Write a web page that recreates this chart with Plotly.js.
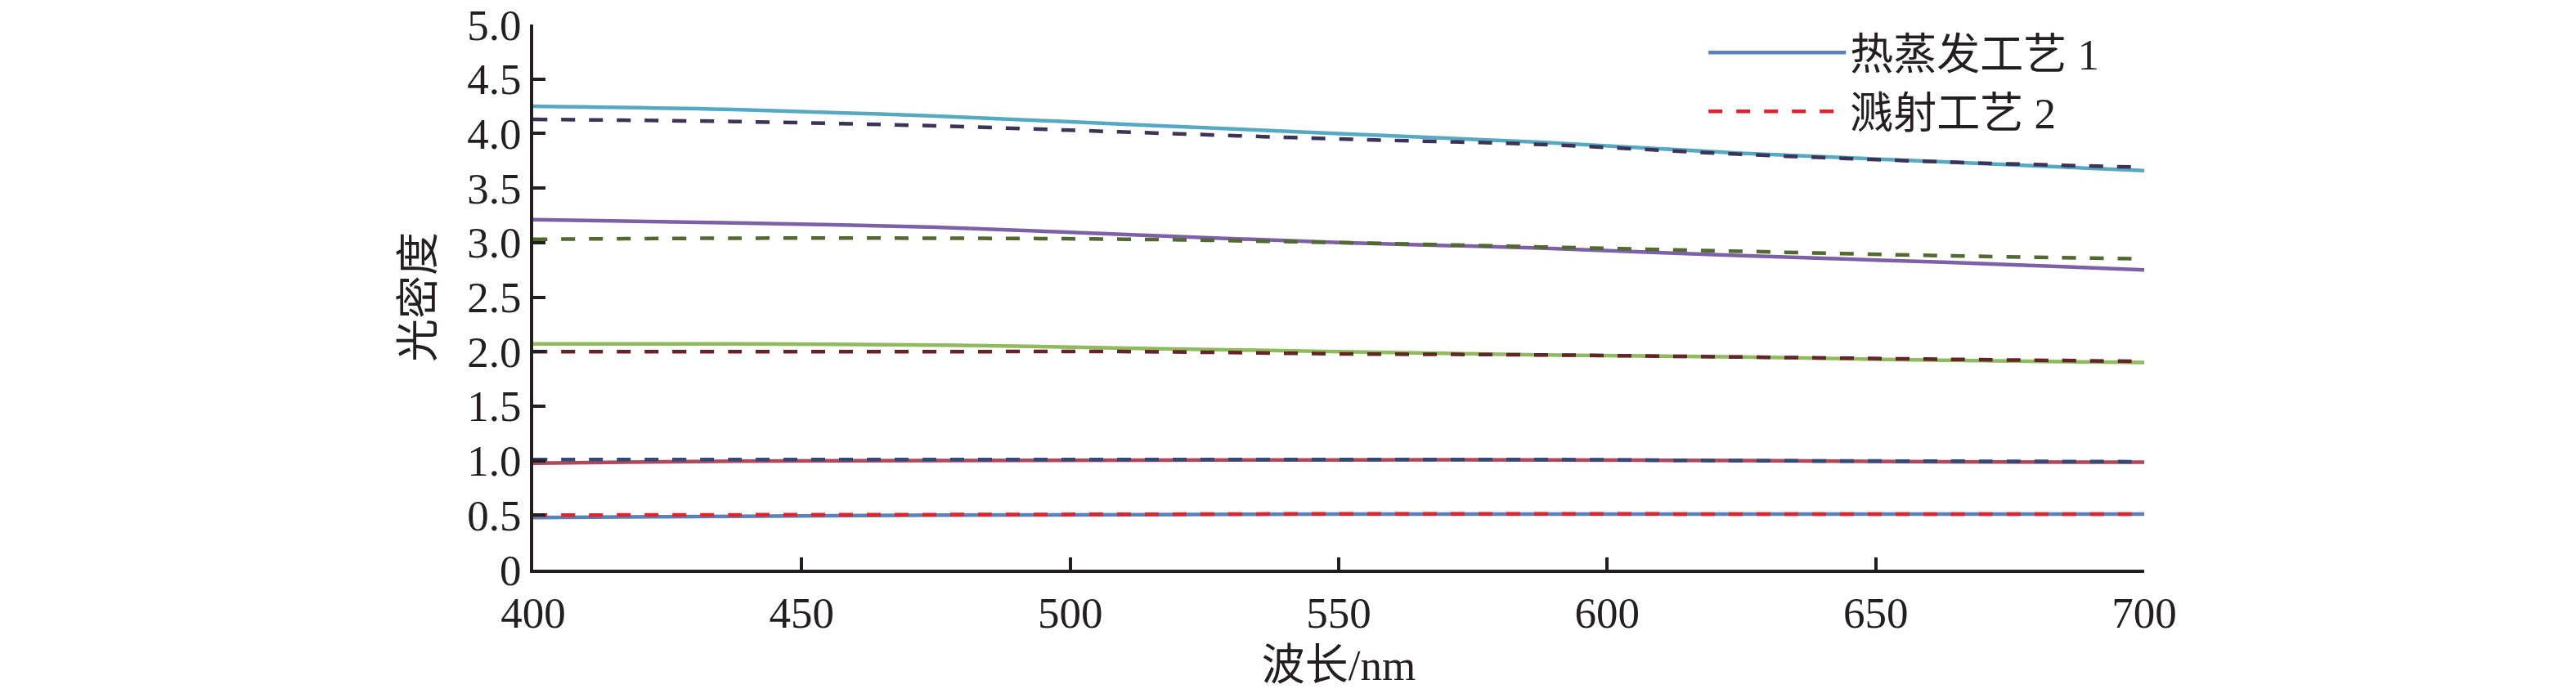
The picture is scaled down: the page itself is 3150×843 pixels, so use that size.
<!DOCTYPE html>
<html>
<head>
<meta charset="utf-8">
<script src="https://cdn.plot.ly/plotly-3.0.1.min.js"></script>
<style>
  html, body { margin: 0; padding: 0; background: #fff; }
  #chart { width: 3150px; height: 843px; }
</style>
</head>
<body>
<div id="chart"></div>
<script>
// wavelength samples (nm)
const wavelength = [400, 437.5, 475, 512.5, 550, 587.5, 625, 662.5, 700];

// thermal evaporation (solid lines)
const evap05 = [0.477, 0.49, 0.50, 0.505, 0.51, 0.51, 0.51, 0.51, 0.51];
const evap1 = [0.977, 0.995, 1.00, 1.005, 1.007, 1.007, 1.00, 0.99, 0.985];
const evap2 = [2.07, 2.07, 2.06, 2.03, 2.00, 1.97, 1.95, 1.92, 1.90];
const evap3 = [3.21, 3.18, 3.14, 3.07, 3.00, 2.95, 2.88, 2.82, 2.75];
const evap4 = [4.25, 4.22, 4.16, 4.08, 4.00, 3.92, 3.82, 3.74, 3.66];

// sputtering (dashed lines)
const sput05 = [0.50, 0.503, 0.505, 0.508, 0.512, 0.512, 0.51, 0.51, 0.51];
const sput1 = [1.01, 1.01, 1.01, 1.01, 1.01, 1.01, 1.00, 0.995, 0.99];
const sput2 = [2.00, 2.00, 2.00, 2.00, 1.98, 1.97, 1.95, 1.93, 1.91];
const sput3 = [3.03, 3.04, 3.04, 3.03, 3.00, 2.96, 2.92, 2.88, 2.85];
const sput4 = [4.13, 4.11, 4.07, 4.01, 3.95, 3.90, 3.81, 3.74, 3.69];

const legendNames = ['热蒸发工艺 1', '溅射工艺 2'];
const yTickVals = [0, 0.5, 1, 1.5, 2, 2.5, 3, 3.5, 4, 4.5, 5];
const yTickText = ['0', '0.5', '1.0', '1.5', '2.0', '2.5', '3.0', '3.5', '4.0', '4.5', '5.0'];
const xTickVals = [400, 450, 500, 550, 600, 650, 700];

const ink = '#231f20';
const font = 'Liberation Serif, "Times New Roman", "Noto Sans CJK SC", serif';

function solid(y, color, name) {
    return {
        x: wavelength, y: y, type: 'scatter', mode: 'lines',
        line: { color: color, width: 4.5, shape: 'spline' },
        name: name || '', showlegend: !!name, hoverinfo: 'skip'
    };
}
function dashed(y, color, name) {
    return {
        x: wavelength, y: y, type: 'scatter', mode: 'lines',
        line: { color: color, width: 4.5, dash: '17px,17px', shape: 'spline' },
        name: name || '', showlegend: !!name, hoverinfo: 'skip'
    };
}

const data = [
    solid(evap4, '#56a9c2'),
    solid(evap3, '#7d60a8'),
    solid(evap2, '#8fbb5e'),
    solid(evap1, '#b0475a'),
    solid(evap05, '#5a81ba', legendNames[0]),
    dashed(sput4, '#3d3358'),
    dashed(sput3, '#516a30'),
    dashed(sput2, '#652528'),
    dashed(sput1, '#314a78'),
    dashed(sput05, '#e0242e', legendNames[1])
];

const layout = {
    width: 3150,
    height: 843,
    paper_bgcolor: '#fff',
    plot_bgcolor: '#fff',
    font: { family: font, size: 53, color: ink },
    margin: { l: 652, r: 528, t: 30, b: 146, pad: 0 },
    xaxis: {
        range: [400, 700],
        tickvals: xTickVals,
        ticks: 'inside',
        ticklen: 15,
        tickwidth: 4,
        tickcolor: ink,
        ticklabelstandoff: 3,
        showline: true,
        linewidth: 4,
        linecolor: ink,
        showgrid: false,
        zeroline: false,
        fixedrange: true,
        title: { text: '波长/nm', standoff: 18, font: { family: font, size: 53, color: ink } }
    },
    yaxis: {
        range: [0, 5],
        tickvals: yTickVals,
        ticktext: yTickText,
        ticks: 'inside',
        ticklen: 15,
        tickwidth: 4,
        tickcolor: ink,
        showline: true,
        linewidth: 4,
        linecolor: ink,
        showgrid: false,
        zeroline: false,
        fixedrange: true,
        title: { text: '光密度', standoff: 25, font: { family: font, size: 53, color: ink } }
    },
    legend: {
        x: 0.727,
        y: 1.01,
        xanchor: 'left',
        yanchor: 'top',
        bgcolor: 'rgba(0,0,0,0)',
        borderwidth: 0,
        itemwidth: 168,
        tracegroupgap: 0,
        font: { family: font, size: 53, color: ink }
    },
    showlegend: true
};

Plotly.newPlot('chart', data, layout, { displayModeBar: false, staticPlot: true });
</script>
</body>
</html>
